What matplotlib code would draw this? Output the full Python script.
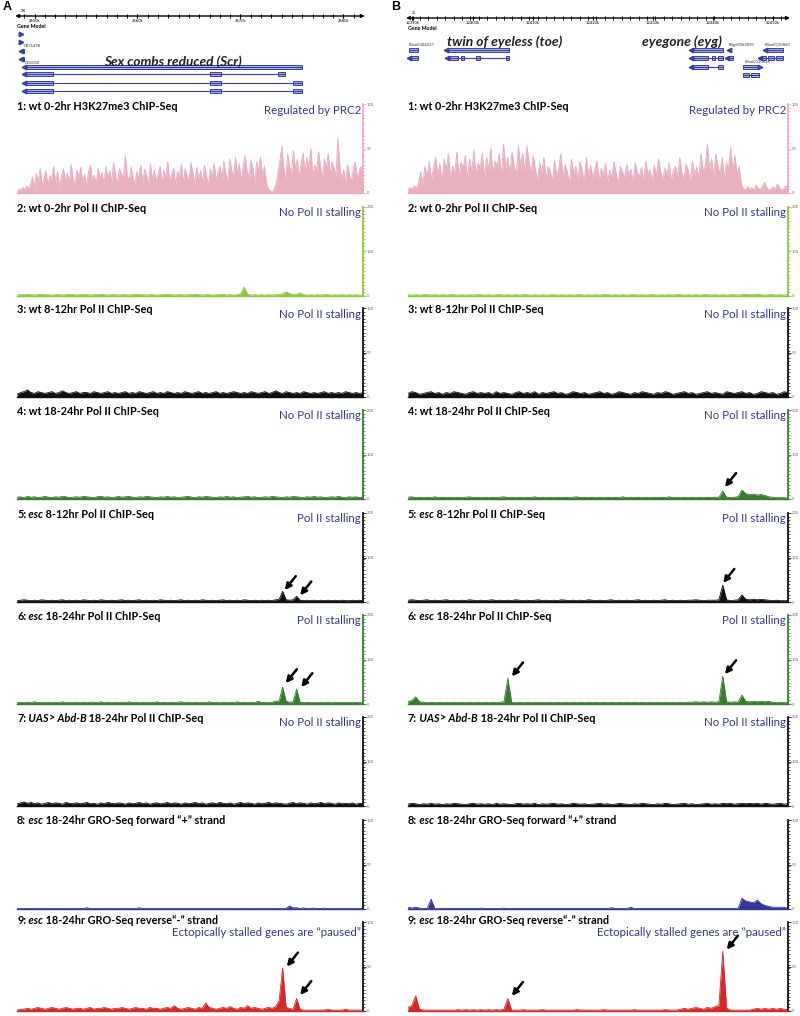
import numpy as np
import matplotlib
matplotlib.use("Agg")
import matplotlib.pyplot as plt
from matplotlib.patches import Rectangle
from matplotlib.ticker import MultipleLocator

FONT = "Lato"

# ---------------- genomic windows (kb) ----------------
A_range = (2648.3, 2681.9)
B_range = (12389.2, 12452.5)
A_chrom = "3R"
B_chrom = "3L"
A_ruler_ticks = [2650, 2660, 2670, 2680]
B_ruler_ticks = [12390, 12400, 12410, 12420, 12430, 12440, 12450]

# ---------------- track descriptions ----------------
track_label_parts = [
    [("1: wt 0-2hr H3K27me3 ChIP-Seq", False)],
    [("2: wt 0-2hr Pol II ChIP-Seq", False)],
    [("3: wt 8-12hr Pol II ChIP-Seq", False)],
    [("4: wt 18-24hr Pol II ChIP-Seq", False)],
    [("5:", False), (" esc", True), (" 8-12hr Pol II ChIP-Seq", False)],
    [("6:", False), (" esc", True), (" 18-24hr Pol II ChIP-Seq", False)],
    [("7:", False), (" UAS", True), (">", False), (" Abd-B", True), (" 18-24hr Pol II ChIP-Seq", False)],
    [("8:", False), (" esc", True), (" 18-24hr GRO-Seq forward \u201c+\u201d strand", False)],
    [("9:", False), (" esc", True), (" 18-24hr GRO-Seq reverse\u201c-\u201d strand", False)],
]
A_notes = ["Regulated by PRC2", "No Pol II stalling", "No Pol II stalling", "No Pol II stalling",
           "Pol II stalling", "Pol II stalling", "No Pol II stalling", "",
           "Ectopically stalled genes are \u201cpaused\u201d"]
B_notes = A_notes
track_colors = ["#e9b0c0", "#8dc641", "#111111", "#3b7a31", "#111111", "#3b7a31",
                "#111111", "#35379a", "#d22a2a"]
axis_colors = ["#e9b0c0", "#8dc641", "#111111", "#3b7a31", "#111111", "#3b7a31",
               "#111111", "#111111", "#111111"]
track_ymax = [100, 200, 100, 200, 200, 200, 200, 100, 100]

# ---------------- signal values ----------------
A1 = [2, 4, 3, 6, 4, 8, 5, 10,
      18, 6, 22, 12, 28, 9, 16, 25, 8, 20, 14, 30, 11, 24, 7, 19, 27, 13, 22, 10, 32, 15, 9, 26, 18, 29,
      12, 21, 8, 24, 31, 14, 20, 10, 28, 17, 23, 9, 30, 16, 25, 12, 34, 19, 11, 27, 22, 15, 42, 20, 13, 29, 18,
      9, 24, 16, 31, 11, 27, 20, 8, 33, 15, 26, 12, 22, 30, 10, 25, 18, 35, 13, 21, 28, 9, 24, 17, 32, 11,
      27, 19, 14, 34, 22, 10, 29, 16, 25, 12, 31, 20, 8, 27, 18, 33, 14, 24, 30,
      15, 36, 22, 12, 38, 26, 17, 40, 21, 33, 14, 30, 42, 24, 18, 37, 28, 11, 35, 25, 40, 19, 30,
      12, 5, 2, 1, 4, 10, 22,
      36, 53, 28, 14, 44, 30, 20, 48, 26, 38, 16, 34, 45, 22, 40, 28, 50, 18, 32, 24, 46, 30, 15, 38, 26,
      44, 20, 35, 28, 18,
      62, 30,
      14, 26, 10, 32, 20, 12, 28, 35, 18, 24, 30, 22]
A2 = [2, 3, 3, 4, 3, 2, 3, 4, 3, 3, 2, 3, 3, 2, 3, 4, 3, 2, 3, 3,
      3, 2, 3, 3, 4, 3, 2, 3, 3, 2, 3, 3, 2, 3, 4, 3, 3, 2, 3, 3,
      2, 3, 3, 4, 3, 2, 3, 3, 2, 3, 3, 4, 3, 2, 3, 3, 2, 3, 3, 4,
      2, 3, 2, 3, 5, 20, 4, 2, 3, 2, 3, 2, 3, 2, 3, 3, 5, 9, 6, 3,
      4, 7, 3, 2, 3, 2, 3, 2, 3, 3, 2, 3, 2, 3, 2, 3, 2, 3, 2, 2]
A3 = [3, 5, 6, 8, 5, 4, 6, 5, 4, 5, 6, 4, 5, 7, 5, 4, 5, 6, 4, 5,
      5, 4, 6, 5, 4, 5, 6, 4, 5, 4, 5, 6, 4, 5, 4, 6, 5, 4, 5, 6,
      4, 5, 4, 6, 5, 4, 5, 4, 6, 5, 4, 5, 6, 4, 5, 4, 5, 6, 4, 5,
      4, 5, 6, 5, 4, 5, 4, 6, 5, 4, 5, 6, 4, 5, 7, 5, 4, 6, 5, 4,
      5, 4, 6, 5, 4, 5, 4, 5, 6, 4, 5, 4, 5, 4, 6, 5, 4, 5, 4, 5]
A4 = [4, 5, 3, 6, 4, 5, 3, 4, 6, 4, 3, 5, 4, 6, 5, 3, 4, 5, 4, 6,
      5, 4, 3, 5, 6, 4, 5, 3, 4, 6, 4, 5, 6, 4, 3, 5, 4, 6, 5, 4,
      3, 5, 4, 6, 4, 5, 3, 4, 5, 6, 4, 3, 5, 4, 6, 5, 4, 3, 5, 4,
      6, 4, 5, 3, 4, 5, 6, 4, 5, 3, 4, 5, 4, 6, 5, 4, 3, 5, 4, 6,
      5, 4, 3, 5, 4, 6, 4, 5, 3, 4, 5, 4, 6, 4, 3, 5, 4, 5, 3, 4]
A5 = [3, 4, 5, 4, 3, 4, 3, 5, 4, 3, 4, 3, 4, 5, 3, 4, 3, 4, 3, 5,
      4, 3, 4, 3, 5, 4, 3, 4, 3, 4, 5, 3, 4, 3, 4, 5, 3, 4, 3, 4,
      3, 5, 4, 3, 4, 3, 4, 5, 3, 4, 3, 4, 3, 5, 4, 3, 4, 3, 4, 5,
      3, 4, 3, 4, 3, 5, 4, 3, 4, 3, 4, 3, 4, 3, 5, 6, 24, 5, 4, 5,
      13, 4, 3, 4, 3, 4, 3, 4, 3, 4, 3, 4, 3, 4, 3, 3, 4, 3, 4, 3]
A6 = [3, 4, 3, 4, 3, 5, 3, 4, 3, 4, 3, 4, 3, 5, 3, 4, 3, 4, 3, 4,
      3, 4, 4, 3, 5, 3, 4, 3, 4, 3, 4, 3, 5, 3, 4, 3, 4, 3, 4, 3,
      5, 3, 4, 3, 4, 3, 4, 5, 3, 4, 3, 4, 3, 4, 3, 5, 3, 4, 3, 4,
      3, 4, 3, 5, 3, 4, 3, 4, 3, 6, 3, 4, 3, 4, 6, 7, 38, 6, 4, 5,
      33, 4, 3, 4, 3, 4, 3, 4, 3, 4, 3, 4, 3, 4, 3, 4, 3, 4, 3, 3]
A7 = [5, 7, 9, 6, 8, 5, 7, 4, 6, 8, 5, 7, 6, 4, 8, 6, 5, 7, 5, 6,
      8, 5, 6, 4, 7, 5, 8, 6, 5, 7, 6, 4, 7, 5, 6, 8, 5, 7, 4, 6,
      7, 5, 6, 8, 5, 7, 6, 4, 7, 5, 6, 8, 5, 7, 4, 6, 7, 5, 8, 6,
      5, 7, 4, 6, 8, 5, 7, 6, 4, 7, 5, 6, 8, 5, 7, 6, 5, 4, 6, 8,
      5, 7, 6, 4, 7, 5, 6, 8, 5, 7, 6, 4, 7, 5, 6, 5, 7, 4, 6, 5]
A8 = [0.4, 0.5, 0.4, 0.6, 0.5, 0.4, 0.5, 0.4, 0.6, 0.5, 0.4, 0.5, 0.5, 0.4, 0.6, 0.5, 0.4, 0.5, 0.4, 0.5,
      1.5, 0.5, 0.4, 0.5, 0.6, 0.4, 0.5, 0.4, 0.5, 0.6, 0.4, 0.5, 0.4, 0.5, 0.6, 1.4, 0.5, 0.4, 0.5, 0.4,
      0.5, 0.6, 0.4, 0.5, 0.4, 0.5, 0.6, 0.4, 0.5, 0.4, 0.5, 0.4, 0.6, 0.5, 0.4, 0.5, 0.4, 0.6, 0.5, 0.4,
      0.5, 0.4, 0.5, 0.6, 0.4, 0.5, 0.4, 0.5, 0.6, 0.4, 0.5, 0.4, 0.5, 0.4, 0.6, 0.5, 0.4, 0.8, 3.5, 1.2,
      1.5, 0.6, 1.2, 0.5, 0.8, 1.0, 0.5, 0.7, 1.0, 0.5, 0.4, 0.5, 0.4, 0.6, 0.5, 0.4, 0.5, 0.8, 0.4, 0.5]
A9 = [1, 2, 2, 3, 2, 3, 4, 3, 2, 3, 4, 3, 2, 3, 4, 3, 2, 3, 3, 2,
      3, 4, 2, 3, 3, 4, 3, 2, 3, 3, 4, 3, 2, 3, 4, 3, 3, 2, 4, 3,
      3, 2, 3, 4, 3, 6, 3, 2, 3, 4, 3, 2, 4, 3, 9, 4, 3, 2, 3, 4,
      3, 5, 3, 2, 4, 3, 6, 3, 4, 3, 2, 3, 4, 3, 5, 12, 48, 4, 3, 2,
      14, 2, 1, 1, 1, 1, 1, 1, 1, 2, 1, 1, 1, 1, 2, 1, 1, 1, 1, 1]

B1 = [3, 6, 4, 8, 5, 12,
      24, 10, 30, 18, 36, 14, 28, 40, 20, 33, 12, 38, 25, 44, 16, 30, 22, 46, 18, 35, 27, 42, 15, 38,
      24, 48, 20, 34, 29, 45, 17, 40, 26, 50, 22, 36, 30, 44, 19, 55,
      28, 40, 21, 46, 32, 18, 53, 30, 44, 24, 52, 36, 20, 42, 26,
      14, 34, 22, 40, 16, 30, 25, 12, 36, 20, 28, 44, 18, 32, 24, 10, 38, 22, 30, 15, 35, 26, 12, 40, 20,
      31, 17, 27, 36, 14,
      28, 20, 33, 12, 26, 18, 35, 22, 10, 30, 24, 16, 32, 20, 27, 11, 34, 23, 18, 29, 14, 36, 21, 26, 12,
      31, 19, 38, 24, 15, 28, 20, 34, 13, 25, 30, 18, 40, 22, 16, 32, 26, 12, 36, 20, 29, 17, 44, 24, 30,
      55, 26, 38, 18, 44, 30, 22, 40, 16, 34, 28, 51, 24, 42, 20, 30,
      10, 5, 3, 7, 4, 6, 3, 9, 5, 4, 8, 12, 6, 3, 5, 7, 4, 10, 6, 3, 5, 8, 4]
B2 = [3, 2, 3, 2, 3, 3, 2, 3, 2, 3, 2, 3, 3, 2, 3, 2, 3, 2, 3, 3,
      2, 3, 2, 3, 3, 2, 3, 2, 3, 2, 3, 3, 2, 3, 2, 3, 2, 3, 3, 2,
      3, 2, 3, 2, 3, 3, 2, 3, 2, 3, 2, 3, 3, 2, 3, 2, 3, 2, 3, 3,
      2, 3, 2, 3, 3, 2, 3, 2, 3, 2, 3, 3, 2, 3, 2, 3, 2, 3, 3, 2,
      3, 2, 3, 2, 3, 3, 2, 3, 4, 3, 3, 4, 3, 2, 3, 3, 2, 3, 2, 3]
B3 = [4, 6, 5, 3, 4, 5, 6, 4, 5, 3, 5, 4, 6, 5, 4, 3, 5, 6, 4, 5,
      4, 5, 3, 6, 4, 5, 4, 3, 5, 6, 4, 5, 4, 6, 3, 5, 4, 5, 6, 4,
      5, 3, 4, 6, 5, 4, 5, 3, 4, 5, 6, 4, 5, 3, 4, 6, 5, 4, 3, 5,
      4, 6, 5, 4, 3, 5, 4, 6, 5, 3, 4, 5, 6, 4, 5, 3, 4, 5, 6, 4,
      5, 4, 3, 6, 5, 4, 5, 6, 4, 5, 3, 4, 6, 5, 4, 5, 3, 4, 6, 5]
B4 = [4, 5, 3, 4, 3, 4, 3, 5, 3, 4, 3, 4, 3, 4, 3, 4, 5, 3, 4, 3,
      4, 3, 4, 3, 4, 5, 3, 4, 3, 4, 3, 4, 3, 5, 3, 4, 3, 4, 3, 4,
      3, 4, 3, 4, 5, 3, 4, 3, 4, 3, 4, 3, 4, 3, 4, 3, 5, 3, 4, 3,
      4, 3, 4, 3, 4, 3, 4, 3, 5, 3, 4, 3, 4, 3, 4, 3, 4, 3, 4, 3,
      4, 4, 18, 4, 3, 4, 5, 20, 12, 10, 11, 9, 10, 8, 5, 4, 3, 3, 3, 2]
B5 = [4, 5, 4, 3, 4, 5, 3, 4, 3, 4, 5, 3, 4, 3, 4, 3, 5, 4, 3, 4,
      3, 4, 5, 3, 4, 3, 4, 3, 5, 4, 3, 4, 3, 4, 5, 3, 4, 3, 4, 3,
      5, 4, 3, 4, 3, 4, 3, 5, 4, 3, 4, 3, 4, 5, 3, 4, 3, 4, 3, 4,
      5, 3, 4, 3, 4, 3, 4, 5, 3, 4, 3, 4, 3, 4, 4, 5, 4, 3, 4, 4,
      4, 5, 38, 5, 3, 4, 5, 16, 6, 5, 6, 5, 6, 5, 4, 3, 4, 3, 3, 3]
B6 = [5, 8, 16, 5, 4, 3, 4, 3, 4, 3, 4, 3, 4, 3, 4, 3, 4, 3, 4, 3,
      4, 3, 4, 3, 4, 5, 58, 4, 3, 4, 3, 4, 3, 4, 3, 4, 3, 4, 3, 4,
      3, 4, 3, 4, 3, 4, 3, 4, 3, 4, 3, 4, 3, 4, 3, 4, 3, 4, 3, 4,
      3, 4, 3, 4, 3, 4, 3, 4, 3, 4, 3, 4, 3, 4, 4, 5, 4, 5, 4, 5,
      4, 5, 63, 5, 4, 5, 4, 20, 6, 5, 6, 5, 6, 5, 6, 4, 3, 4, 3, 3]
B7 = [4, 6, 5, 3, 5, 4, 6, 4, 5, 3, 5, 4, 6, 5, 4, 3, 5, 6, 4, 5,
      4, 5, 3, 6, 4, 5, 4, 3, 5, 6, 4, 5, 4, 6, 3, 5, 4, 5, 6, 4,
      5, 3, 4, 6, 5, 4, 5, 3, 4, 5, 6, 4, 5, 3, 4, 6, 5, 4, 3, 5,
      4, 6, 5, 4, 3, 5, 4, 6, 5, 3, 4, 5, 6, 4, 5, 3, 4, 5, 6, 4,
      5, 4, 6, 5, 6, 4, 5, 6, 5, 6, 5, 6, 4, 6, 5, 4, 5, 6, 4, 5]
B8 = [2, 1, 2, 1, 0.5, 0.5, 11, 0.5, 0.5, 0.5, 0.5, 0.5, 0.5, 0.5, 0.5, 0.5, 0.5, 0.5, 0.5, 1,
      0.5, 0.5, 0.5, 0.5, 0.5, 1, 0.5, 0.5, 0.5, 0.5, 0.5, 0.5, 0.5, 0.5, 0.5, 0.5, 0.5, 0.5, 0.5, 0.5,
      0.5, 0.5, 0.5, 0.5, 0.5, 0.5, 0.5, 0.5, 0.5, 0.5, 0.5, 0.5, 0.5, 1.5, 0.5, 0.5, 0.5, 0.5, 2, 0.5,
      0.5, 0.5, 0.5, 0.5, 0.5, 0.5, 0.5, 0.5, 0.5, 0.5, 0.5, 0.5, 0.5, 0.5, 0.5, 0.5, 0.5, 0.5, 0.5, 0.5,
      0.5, 0.5, 0.5, 0.5, 0.5, 0.5, 0.5, 12, 9, 8, 7, 10, 6, 4, 3, 2, 2, 2, 2, 0.5]
B9 = [4, 6, 17, 2, 1, 1, 1, 1, 1, 1, 1, 1, 1, 1.5, 1, 1.5, 1, 1.5, 1, 1.5,
      1, 1.5, 1, 1.5, 1, 2, 14, 1, 1, 1, 1.5, 1, 1, 1, 1, 1.5, 1, 1, 1, 1,
      1, 1, 1, 1, 1.5, 1, 1, 1, 1, 1, 1, 1.5, 1, 1, 1, 1, 1, 1, 1, 1.5,
      1, 1, 1, 1, 1, 1, 1, 1.5, 1, 1, 1, 2, 3, 2, 3, 4, 3, 2, 4, 3,
      5, 6, 67, 3, 1, 1, 1, 1, 1, 1, 2, 3, 2, 3, 2, 3, 2, 3, 2, 1.5]

A_tracks = [A1, A2, A3, A4, A5, A6, A7, A8, A9]
B_tracks = [B1, B2, B3, B4, B5, B6, B7, B8, B9]

# arrow tips (kb, signal value) per track index
A_arrows = {4: [(2674.3, 27), (2675.8, 15)],
            5: [(2674.4, 47), (2675.9, 38)],
            8: [(2674.5, 50), (2675.8, 18)]}
B_arrows = {3: [(12442.0, 27)],
            4: [(12441.7, 43)],
            5: [(12406.5, 62), (12442.0, 67)],
            8: [(12406.5, 17), (12442.3, 69)]}

# ---------------- gene models (kb) ----------------
A_gene_rows = [
    (34, [], ">", 2648.7),
    (42, [], ">", 2648.7),
    (51, [(2648.75, 2649.0)], "<", 2648.65),
    (59, [(2648.75, 2649.0)], "<", 2648.65),
    (67, [(2649.1, 2676.0)], "<", 2648.95),
    (74, [(2649.1, 2651.8), (2667.0, 2668.1), (2673.6, 2674.3)], "<", 2648.95),
    (83, [(2649.1, 2651.8), (2667.0, 2668.1), (2675.1, 2676.0)], "<", 2648.95),
    (91, [(2649.1, 2651.8), (2667.0, 2668.1), (2675.1, 2676.0)], "<", 2648.95),
]
A_small_labels = [("CR31498", 2649.0, 46), ("CG1030", 2649.1, 63)]
A_gene_names = [("Sex combs reduced (Scr)", 2663.4, 62)]

B_gene_rows = [
    (50, [(12389.3, 12390.8)], None, None),
    (58, [(12389.6, 12390.8)], "<", 12389.4),
    (50, [(12395.8, 12406.0)], "<", 12395.6),
    (58, [(12395.9, 12397.6), (12398.1, 12398.6), (12400.6, 12401.2), (12405.5, 12406.0)], "<", 12395.7),
    (50, [(12436.5, 12441.6)], "<", 12436.3),
    (58, [(12436.5, 12439.2), (12439.8, 12440.3), (12440.8, 12441.6)], "<", 12436.3),
    (67, [(12436.5, 12439.2), (12440.8, 12441.6)], "<", 12436.3),
    (50, [], "<", 12442.7),
    (58, [(12442.5, 12443.3)], "<", 12442.3),
    (50, [(12448.8, 12451.7)], "<", 12448.6),
    (58, [(12448.1, 12448.8), (12449.2, 12450.2), (12450.5, 12451.7)], "<", 12447.9),
    (67, [(12445.0, 12447.6)], ">", 12447.8),
    (75, [(12445.0, 12446.0), (12446.3, 12447.6)], None, None),
]
B_small_labels = [("FBan0004237", 12389.3, 45), ("FBgn0063030", 12442.6, 45),
                  ("FBan0010863", 12448.6, 45), ("FBan0010818", 12445.2, 62)]
B_gene_names = [("twin of eyeless (toe)", 12405.3, 42), ("eyegone (eyg)", 12434.9, 42)]

# ---------------- drawing ----------------
W, H = 800, 1016
fig = plt.figure(figsize=(W / 100, H / 100), dpi=100)
fig.patch.set_facecolor("white")

GENE_C = "#3a3f9c"
EXON_FC = "#aab4e6"
NOTE_C = "#38358f"
LBL_FS = 7.8
NOTE_FS = 8.3


def px_axes(x0, y0, x1, y1):
    return fig.add_axes([x0 / W, 1 - y1 / H, (x1 - x0) / W, (y1 - y0) / H])


def draw_label(ax, x_px, y_px, parts):
    txt, ital = parts[0]
    prev = fig.text(x_px / W, 1 - y_px / H, txt, fontsize=LBL_FS, fontweight="bold",
                    fontstyle="italic" if ital else "normal", family=FONT,
                    va="center", ha="left")
    for txt, ital in parts[1:]:
        prev = ax.annotate(txt, xy=(1, 0.5), xycoords=prev, va="center", ha="left",
                           fontsize=LBL_FS, fontweight="bold",
                           fontstyle="italic" if ital else "normal", family=FONT,
                           annotation_clip=False)


track_bottom = [193, 296, 397, 499, 602, 704, 806, 909, 1011]
track_h = 89
label_dy = [2, 1.5, 1.5, 1.5, 1.5, 1.5, 1, 0, -1.5]
note_dy = [6, 6, 6, 6, 6, 6, 6, 6, 10]

panels = [
    dict(x0=17, x1=363, rng=A_range, tracks=A_tracks, arrows=A_arrows, notes=A_notes,
         rows=A_gene_rows, small=A_small_labels, names=A_gene_names, ticks=A_ruler_ticks,
         chrom=A_chrom, letter="A", letter_x=7, name_fs=9.8, minor=1.0, ruler_y=16),
    dict(x0=408, x1=788, rng=B_range, tracks=B_tracks, arrows=B_arrows, notes=B_notes,
         rows=B_gene_rows, small=B_small_labels, names=B_gene_names, ticks=B_ruler_ticks,
         chrom=B_chrom, letter="B", letter_x=396, name_fs=10.0, minor=1.4, ruler_y=18),
]

for P in panels:
    x0, x1, rng = P["x0"], P["x1"], P["rng"]
    # ---- ruler + gene model ----
    gax = px_axes(x0, 0, x1, 100)
    gax.set_xlim(rng)
    gax.set_ylim(100, 0)
    gax.axis("off")
    ry = P["ruler_y"]
    span = rng[1] - rng[0]
    gax.annotate("", xy=(rng[0] - 0.005 * span, ry), xytext=(rng[1] + 0.005 * span, ry),
                 arrowprops=dict(arrowstyle="<|-|>", color="black", lw=1.0,
                                 mutation_scale=5, shrinkA=0, shrinkB=0),
                 annotation_clip=False)
    minor_ticks = np.arange(P["ticks"][0] - 10, rng[1], P["minor"])
    minor_ticks = minor_ticks[(minor_ticks > rng[0]) & (minor_ticks < rng[1])]
    gax.vlines(minor_ticks, ry - 1.8, ry + 1.8, color="black", lw=0.7)
    gax.vlines(P["ticks"], ry - 2.2, ry + 2.2, color="black", lw=0.8)
    for t in P["ticks"]:
        gax.text(t, ry + 3, f"{t}k", fontsize=3, ha="center", va="top", family=FONT)
    gax.text(rng[0] + 0.01 * span, ry - 3, P["chrom"], fontsize=3, ha="left", va="bottom", family=FONT)
    gax.text(rng[0], ry + 10, "Gene Model", fontsize=3.8, fontweight="bold", ha="left",
             va="center", family=FONT)
    for (y, exons, mk, mpos) in P["rows"]:
        if exons:
            lo = min(e[0] for e in exons)
            hi = max(e[1] for e in exons)
            gax.plot([lo, hi], [y, y], color=GENE_C, lw=0.8, solid_capstyle="butt")
            for s, e in exons:
                gax.add_patch(Rectangle((s, y - 1.7), e - s, 3.4, fc=EXON_FC, ec=GENE_C, lw=0.7))
        if mk:
            gax.plot([mpos], [y], marker=mk, ms=3.2, color=GENE_C, mec=GENE_C, clip_on=False)
    for (txt, xk, y) in P["small"]:
        gax.text(xk, y, txt, fontsize=3, ha="left", va="center", family=FONT, color="#333333")
    for (txt, xk, y) in P["names"]:
        gax.text(xk, y, txt, fontsize=P["name_fs"], fontweight="bold", fontstyle="italic",
                 ha="center", va="center", family=FONT, color="#222222")
    fig.text((P["letter_x"]) / W, 1 - 7 / H, P["letter"], fontsize=9, fontweight="bold",
             family="Liberation Sans", ha="center", va="center")

    # ---- signal tracks ----
    for k in range(9):
        bot = track_bottom[k]
        top = bot - track_h
        ax = px_axes(x0, top, x1, bot)
        vals = np.asarray(P["tracks"][k], dtype=float)
        xs = np.linspace(rng[0], rng[1], len(vals))
        c = track_colors[k]
        ax.fill_between(xs, vals, color=c, lw=0)
        ax.plot(xs, vals, color=c, lw=0.7 if k == 0 else 0.6)
        ymax = track_ymax[k]
        ax.set_xlim(rng)
        ax.set_ylim(0, ymax)
        ax.patch.set_visible(False)
        for s in ("top", "left"):
            ax.spines[s].set_visible(False)
        ax.spines["bottom"].set_color(c)
        ax.spines["bottom"].set_linewidth(1.0)
        ax.spines["right"].set_color(axis_colors[k])
        ax.spines["right"].set_linewidth(1.3)
        ax.set_xticks([])
        ax.yaxis.tick_right()
        ax.set_yticks([0, ymax // 2, ymax])
        ax.set_yticklabels(["0", str(ymax // 2), str(ymax)])
        ax.yaxis.set_minor_locator(MultipleLocator(ymax / 25))
        ax.tick_params(axis="y", which="major", length=2.0, width=0.6, color=axis_colors[k],
                       labelsize=3, pad=0.5, labelcolor="#666666")
        ax.tick_params(axis="y", which="minor", length=1.1, width=0.5, color=axis_colors[k])
        for lab in ax.get_yticklabels():
            lab.set_family(FONT)
        draw_label(ax, x0, top + label_dy[k], track_label_parts[k])
        note = P["notes"][k]
        if note:
            fig.text((x1 - 2) / W, 1 - (top + note_dy[k]) / H, note, fontsize=NOTE_FS, color=NOTE_C,
                     ha="right", va="center", family=FONT)
        for (xk, yv) in P["arrows"].get(k, []):
            ax.annotate("", xy=(xk, yv), xytext=(8, 10), textcoords="offset points",
                        arrowprops=dict(arrowstyle="-|>", color="black", lw=1.8,
                                        mutation_scale=9, shrinkA=0, shrinkB=0),
                        annotation_clip=False)

fig.savefig("out.png", dpi=100, facecolor="white")
